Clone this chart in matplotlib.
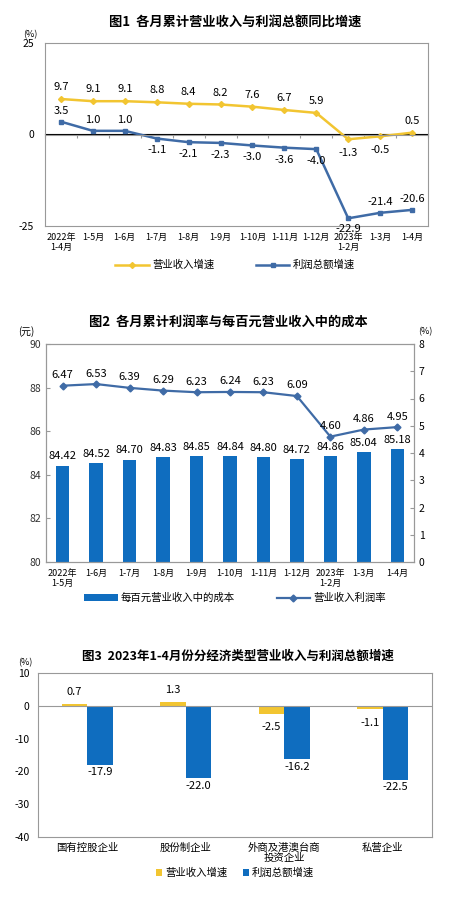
import matplotlib
matplotlib.use("Agg")
import matplotlib.pyplot as plt
import numpy as np

plt.rcParams['font.family'] = ['Noto Sans CJK SC', 'DejaVu Sans']
plt.rcParams['axes.unicode_minus'] = False

YELLOW = "#F2C531"
BLUE_LINE = "#3F6BA6"
BLUE_BAR = "#0F6DBF"
GRID = "#999999"

# ---- 图1 数据 ----
c1_labels = ["2022年\n1-4月", "1-5月", "1-6月", "1-7月", "1-8月", "1-9月", "1-10月",
             "1-11月", "1-12月", "2023年\n1-2月", "1-3月", "1-4月"]
c1_revenue = [9.7, 9.1, 9.1, 8.8, 8.4, 8.2, 7.6, 6.7, 5.9, -1.3, -0.5, 0.5]
c1_profit = [3.5, 1.0, 1.0, -1.1, -2.1, -2.3, -3.0, -3.6, -4.0, -22.9, -21.4, -20.6]

# ---- 图2 数据 ----
c2_labels = ["2022年\n1-5月", "1-6月", "1-7月", "1-8月", "1-9月", "1-10月", "1-11月",
             "1-12月", "2023年\n1-2月", "1-3月", "1-4月"]
c2_cost = [84.42, 84.52, 84.70, 84.83, 84.85, 84.84, 84.80, 84.72, 84.86, 85.04, 85.18]
c2_margin = [6.47, 6.53, 6.39, 6.29, 6.23, 6.24, 6.23, 6.09, 4.60, 4.86, 4.95]

# ---- 图3 数据 ----
c3_labels = ["国有控股企业", "股份制企业", "外商及港澳台商\n投资企业", "私营企业"]
c3_revenue = [0.7, 1.3, -2.5, -1.1]
c3_profit = [-17.9, -22.0, -16.2, -22.5]

W, H = 470, 899
fig = plt.figure(figsize=(W / 100, H / 100), dpi=100)


def px_axes(l, t, r, b):
    return fig.add_axes([l / W, 1 - b / H, (r - l) / W, (b - t) / H])


def frame(ax):
    for s in ax.spines.values():
        s.set_color(GRID)
        s.set_linewidth(0.8)


# ================= 图1 =================
ax1 = px_axes(45, 43, 428, 226)
frame(ax1)
x1 = np.arange(len(c1_labels))
ax1.plot(x1, c1_revenue, color=YELLOW, lw=1.8, marker="D", ms=3, label="营业收入增速")
ax1.plot(x1, c1_profit, color=BLUE_LINE, lw=1.8, marker="s", ms=3, label="利润总额增速")
ax1.axhline(0, color=GRID, lw=0.8)
ax1.set_xlim(-0.5, len(c1_labels) - 0.5)
ax1.set_ylim(-25, 25)
ax1.set_yticks([-25, 0, 25])
ax1.set_xticks(x1)
ax1.set_xticklabels(c1_labels, fontsize=6.5, linespacing=1.2)
ax1.tick_params(axis="x", length=0, pad=5)
ax1.tick_params(axis="y", length=0, labelsize=7.5, pad=8)
sec = ax1.secondary_xaxis(0.5)
sec.set_xticks(np.arange(len(c1_labels) + 1) - 0.5)
sec.set_xticklabels([])
sec.tick_params(axis="x", direction="in", length=3, color=GRID)
sec.spines["bottom"].set_visible(False)
for i, v in enumerate(c1_revenue):
    ax1.annotate(f"{v:.1f}", (i, v), xytext=(0, 5 if v >= 0 else -6),
                 textcoords="offset points", ha="center",
                 va="bottom" if v >= 0 else "top", fontsize=8)
for i, v in enumerate(c1_profit):
    off = 4 if i < 3 or i >= 10 else -5
    if i == 9:
        off = -4
    ax1.annotate(f"{v:.1f}", (i, v), xytext=(0, off), textcoords="offset points",
                 ha="center", va="bottom" if off > 0 else "top", fontsize=8)
fig.text(30 / W, 1 - 35 / H, "(%)", fontsize=6.5, ha="center", va="center")
fig.text(235 / W, 1 - 23 / H, "图1  各月累计营业收入与利润总额同比增速",
         fontsize=9.5, ha="center", va="center", fontweight="bold")
ax1.legend(loc="center", bbox_to_anchor=(0.5, 1 - 265 / H), bbox_transform=fig.transFigure,
           ncol=2, frameon=False, fontsize=7.5, handlelength=3.2, columnspacing=4,
           handletextpad=0.3)

# ================= 图2 =================
ax2 = px_axes(46, 344, 414, 562)
frame(ax2)
x2 = np.arange(len(c2_labels))
bars = ax2.bar(x2, c2_cost, width=0.4, color=BLUE_BAR, label="每百元营业收入中的成本")
ax2.set_ylim(80, 90)
ax2.set_yticks(np.arange(80, 91, 2))
ax2.set_xlim(-0.5, len(c2_labels) - 0.5)
ax2.set_xticks(x2)
ax2.set_xticklabels(c2_labels, fontsize=6.5, linespacing=1.2)
ax2.tick_params(axis="x", length=0, pad=5)
ax2.tick_params(axis="y", length=3, direction="in", labelsize=7.5, colors="#333333")
ax2.tick_params(axis="y", color=GRID)
for i, v in enumerate(c2_cost):
    ax2.annotate(f"{v:.2f}", (i, v), xytext=(0, 3), textcoords="offset points",
                 ha="center", va="bottom", fontsize=8)
ax2r = ax2.twinx()
frame(ax2r)
ax2r.plot(x2, c2_margin, color=BLUE_LINE, lw=1.6, marker="D", ms=3.5, label="营业收入利润率")
ax2r.set_ylim(0, 8)
ax2r.set_yticks(np.arange(0, 9, 1))
ax2r.tick_params(axis="y", length=3, direction="in", labelsize=7.5, color=GRID)
for i, v in enumerate(c2_margin):
    ax2r.annotate(f"{v:.2f}", (i, v), xytext=(0, 4), textcoords="offset points",
                  ha="center", va="bottom", fontsize=8)
fig.text(26 / W, 1 - 332 / H, "(元)", fontsize=7, ha="center", va="center")
fig.text(425 / W, 1 - 332 / H, "(%)", fontsize=6.5, ha="center", va="center")
fig.text(228 / W, 1 - 322 / H, "图2  各月累计利润率与每百元营业收入中的成本",
         fontsize=9.5, ha="center", va="center", fontweight="bold")
h1, l1 = ax2.get_legend_handles_labels()
h2, l2 = ax2r.get_legend_handles_labels()
ax2r.legend(h1 + h2, l1 + l2, loc="center", bbox_to_anchor=(0.5, 1 - 598 / H),
            bbox_transform=fig.transFigure, ncol=2, frameon=False, fontsize=7.5,
            handlelength=3.2, columnspacing=4, handletextpad=0.3)

# ================= 图3 =================
ax3 = px_axes(38, 673, 432, 837)
frame(ax3)
x3 = np.arange(len(c3_labels))
bw = 0.26
ax3.bar(x3 - bw / 2, c3_revenue, width=bw, color=YELLOW, label="营业收入增速")
ax3.bar(x3 + bw / 2, c3_profit, width=bw, color=BLUE_BAR, label="利润总额增速")
ax3.axhline(0, color=GRID, lw=0.8)
ax3.set_ylim(-40, 10)
ax3.set_yticks(np.arange(-40, 11, 10))
ax3.set_xlim(-0.5, len(c3_labels) - 0.5)
ax3.set_xticks(x3)
ax3.set_xticklabels(c3_labels, fontsize=7.5, linespacing=1.0)
ax3.tick_params(axis="x", length=0, pad=4)
ax3.tick_params(axis="y", length=0, labelsize=7.5, pad=6)
for i, v in enumerate(c3_revenue):
    ax3.annotate(f"{v:.1f}", (i - bw / 2, v), xytext=(0, 5 if v >= 0 else -6),
                 textcoords="offset points", ha="center",
                 va="bottom" if v >= 0 else "top", fontsize=8)
for i, v in enumerate(c3_profit):
    ax3.annotate(f"{v:.1f}", (i + bw / 2, v), xytext=(0, -2), textcoords="offset points",
                 ha="center", va="top", fontsize=8)
fig.text(25 / W, 1 - 663 / H, "(%)", fontsize=6.5, ha="center", va="center")
fig.text(238 / W, 1 - 656 / H, "图3  2023年1-4月份分经济类型营业收入与利润总额增速",
         fontsize=9, ha="center", va="center", fontweight="bold")
ax3.legend(loc="center", bbox_to_anchor=(0.5, 1 - 873 / H), bbox_transform=fig.transFigure,
           ncol=2, frameon=False, fontsize=7.5, handlelength=0.6, handleheight=0.6,
           columnspacing=1.5, handletextpad=0.3)

fig.savefig("out.png", dpi=100)
